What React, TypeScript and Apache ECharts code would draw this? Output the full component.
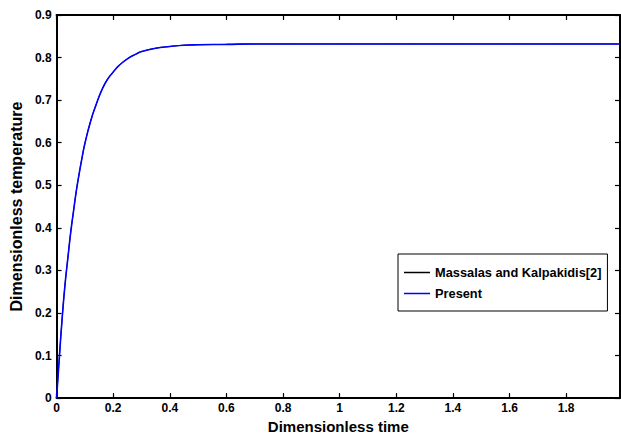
import React, { useEffect, useRef } from "react";
import * as echarts from "echarts";

const timeValues: number[] = [
  0, 0.01, 0.02, 0.03, 0.04, 0.05, 0.06, 0.07, 0.08, 0.09, 0.1, 0.12, 0.14, 0.16, 0.18, 0.2,
  0.22, 0.25, 0.28, 0.3, 0.35, 0.4, 0.45, 0.5, 0.6, 0.7, 0.8, 1.0, 1.2, 1.4, 1.6, 1.8, 1.99,
];
const massalasValues: number[] = [
  0, 0.098, 0.19, 0.268, 0.33, 0.39, 0.44, 0.488, 0.528, 0.565, 0.598, 0.65, 0.69, 0.724, 0.749, 0.766,
  0.781, 0.797, 0.808, 0.814, 0.822, 0.826, 0.829, 0.83, 0.831, 0.832, 0.832, 0.832, 0.832, 0.832, 0.832, 0.832, 0.832,
];
const presentValues: number[] = [
  0, 0.098, 0.19, 0.268, 0.33, 0.39, 0.44, 0.488, 0.528, 0.565, 0.598, 0.65, 0.69, 0.724, 0.749, 0.766,
  0.781, 0.797, 0.808, 0.814, 0.822, 0.826, 0.829, 0.83, 0.831, 0.832, 0.832, 0.832, 0.832, 0.832, 0.832, 0.832, 0.832,
];
const seriesNames: string[] = ["Massalas and Kalpakidis[2]", "Present"];
const xTitle = "Dimensionless time";
const yTitle = "Dimensionless temperature";

const FONT = "Arial, 'Liberation Sans', Helvetica, sans-serif";

export default function App() {
  const ref = useRef<HTMLDivElement>(null);
  useEffect(() => {
    if (!ref.current) return;
    const chart = echarts.init(ref.current, undefined, { renderer: "svg" });
    const axisLine = { show: true, onZero: false, lineStyle: { color: "#000", width: 2 } };
    const tick = { show: true, inside: true, length: 5, lineStyle: { color: "#000", width: 1.2 } };
    const labelStyle = { color: "#000", fontWeight: "bold" as const, fontSize: 12, fontFamily: FONT };
    chart.setOption({
      animation: false,
      backgroundColor: "#fff",
      grid: { left: 54, right: 1, top: 15, bottom: 33, containLabel: false },
      legend: {
        left: 398,
        top: 254,
        orient: "vertical",
        data: [
          { name: seriesNames[0], icon: "rect", itemStyle: { color: "#000" } },
          { name: seriesNames[1], icon: "rect", itemStyle: { color: "#0000ff" } },
        ],
        padding: [12, 6, 11, 6],
        itemGap: 8,
        itemWidth: 26,
        itemHeight: 1.5,
        borderColor: "#000",
        borderWidth: 1,
        borderRadius: 0,
        backgroundColor: "#fff",
        textStyle: { color: "#000", fontWeight: "bold", fontSize: 12.8, fontFamily: FONT, height: 13, lineHeight: 13 },
      },
      xAxis: [
        {
          type: "value",
          min: 0,
          max: 1.99,
          interval: 0.2,
          name: xTitle,
          nameLocation: "middle",
          nameGap: 17,
          nameTextStyle: { color: "#000", fontWeight: "bold", fontSize: 15, fontFamily: FONT },
          axisLine,
          axisTick: tick,
          splitLine: { show: false },
          axisLabel: {
            ...labelStyle,
            margin: 4,
            showMaxLabel: false,
            formatter: (v: number) => (v > 1.9 ? "" : String(Math.round(v * 10) / 10)),
          },
        },
        {
          type: "value",
          position: "top",
          min: 0,
          max: 1.99,
          interval: 0.2,
          axisLine,
          axisTick: tick,
          splitLine: { show: false },
          axisLabel: { show: false },
        },
      ],
      yAxis: [
        {
          type: "value",
          min: 0,
          max: 0.9,
          interval: 0.1,
          name: yTitle,
          nameLocation: "middle",
          nameGap: 28,
          nameTextStyle: { color: "#000", fontWeight: "bold", fontSize: 16, fontFamily: FONT },
          axisLine,
          axisTick: tick,
          splitLine: { show: false },
          axisLabel: {
            ...labelStyle,
            margin: 5,
            formatter: (v: number) => String(Math.round(v * 10) / 10),
          },
        },
        {
          type: "value",
          position: "right",
          min: 0,
          max: 0.9,
          interval: 0.1,
          axisLine,
          axisTick: tick,
          splitLine: { show: false },
          axisLabel: { show: false },
        },
      ],
      series: [
        {
          name: seriesNames[0],
          type: "line",
          symbol: "none",
          smooth: true,
          data: timeValues.map((t, i) => [t, massalasValues[i]]),
          lineStyle: { color: "#000", width: 1 },
          itemStyle: { color: "#000" },
        },
        {
          name: seriesNames[1],
          type: "line",
          symbol: "none",
          smooth: true,
          data: timeValues.map((t, i) => [t, presentValues[i]]),
          lineStyle: { color: "#0000ff", width: 1.6 },
          itemStyle: { color: "#0000ff" },
        },
      ],
    });
    return () => chart.dispose();
  }, []);
  return <div ref={ref} style={{ width: 621, height: 439, position: "absolute", left: 0, top: 0 }} />;
}
